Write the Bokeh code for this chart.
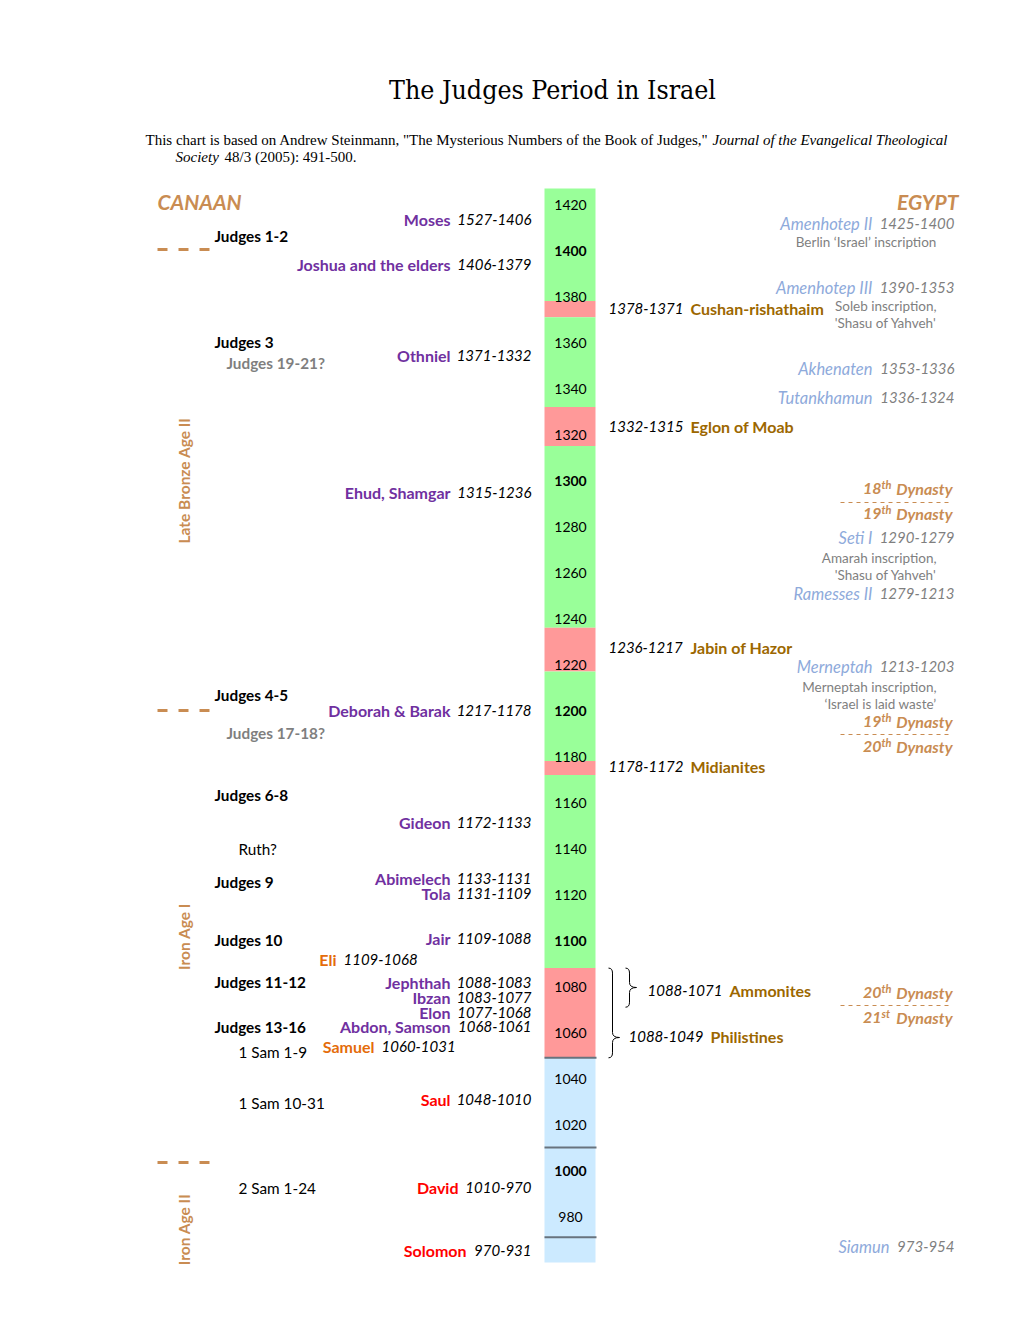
import math
from bokeh.plotting import figure
from bokeh.models import Range1d
from bokeh.embed import file_html
from bokeh.resources import INLINE
from bokeh.core.properties import value

# ---------------- data ----------------
bar_from = [1427, 1378, 1371, 1332, 1315, 1236, 1217, 1178, 1172, 1088, 1049]
bar_to = [1378, 1371, 1332, 1315, 1236, 1217, 1178, 1172, 1088, 1049, 960]
bar_kind = ["judge", "oppression", "judge", "oppression", "judge", "oppression",
            "judge", "oppression", "judge", "oppression", "monarchy"]
tick_years = [1420, 1400, 1380, 1360, 1340, 1320, 1300, 1280, 1260, 1240, 1220,
              1200, 1180, 1160, 1140, 1120, 1100, 1080, 1060, 1040, 1020, 1000, 980]
divider_years = [1049, 1010, 971]

judges = ["Moses", "Joshua and the elders", "Othniel", "Ehud, Shamgar", "Deborah & Barak",
          "Gideon", "Abimelech", "Tola", "Jair", "Jephthah", "Ibzan", "Elon", "Abdon, Samson"]
judge_dates = ["1527-1406", "1406-1379", "1371-1332", "1315-1236", "1217-1178", "1172-1133",
               "1133-1131", "1131-1109", "1109-1088", "1088-1083", "1083-1077", "1077-1068",
               "1068-1061"]
priests = ["Eli", "Samuel"]
priest_dates = ["1109-1068", "1060-1031"]
kings = ["Saul", "David", "Solomon"]
king_dates = ["1048-1010", "1010-970", "970-931"]

books = ["Judges 1-2", "Judges 3", "Judges 4-5", "Judges 6-8", "Judges 9", "Judges 10",
         "Judges 11-12", "Judges 13-16"]
books_maybe = ["Judges 19-21?", "Judges 17-18?"]
books_other = ["Ruth?", "1 Sam 1-9", "1 Sam 10-31", "2 Sam 1-24"]
ages = ["Late Bronze Age II", "Iron Age I", "Iron Age II"]

oppressors = ["Cushan-rishathaim", "Eglon of Moab", "Jabin of Hazor", "Midianites",
              "Ammonites", "Philistines"]
oppressor_dates = ["1378-1371", "1332-1315", "1236-1217", "1178-1172", "1088-1071", "1088-1049"]
brace_from = [1088, 1088]
brace_to = [1071, 1049]

pharaohs = ["Amenhotep II", "Amenhotep III", "Akhenaten", "Tutankhamun", "Seti I",
            "Ramesses II", "Merneptah", "Siamun"]
pharaoh_dates = ["1425-1400", "1390-1353", "1353-1336", "1336-1324", "1290-1279",
                 "1279-1213", "1213-1203", "973-954"]
inscriptions = [["Berlin \u2018Israel\u2019 inscription"],
                ["Soleb inscription,", "'Shasu of Yahveh'"],
                ["Amarah inscription,", "'Shasu of Yahveh'"],
                ["Merneptah inscription,", "\u2018Israel is laid waste\u2019"]]
dynasty_num = ["18", "19", "19", "20", "20", "21"]
dynasty_sup = ["th", "th", "th", "th", "th", "st"]

title = "The Judges Period in Israel"
cite1a = 'This chart is based on Andrew Steinmann, "The Mysterious Numbers of the Book of Judges,"'
cite1b = "Journal of the Evangelical Theological"
cite2a = "Society"
cite2b = "48/3 (2005): 491-500."

# ---------------- colours ----------------
C_GREEN = "#99ff99"
C_RED = "#ff9999"
C_BLUE = "#cceaff"
C_DIV = "#68737e"
C_PURPLE = "#7030a0"
C_GOLD = "#9c6700"
C_PHAR = "#8eaadb"
C_GRAY = "#7f7f7f"
C_TAN = "#c98c52"
C_ORANGE = "#e46c0a"
C_RED_TXT = "#ff0000"
kind_color = {"judge": C_GREEN, "oppression": C_RED, "monarchy": C_BLUE}

# ---------------- figure ----------------
W, H = 1010, 1310
PX_PER_YEAR = 2.3
Y_TOP = 1420 + 204 / PX_PER_YEAR
Y_BOT = Y_TOP - H / PX_PER_YEAR

p = figure(width=W, height=H, output_backend="svg", toolbar_location=None,
           x_range=Range1d(0, W), y_range=Range1d(Y_BOT, Y_TOP),
           x_axis_type=None, y_axis_type=None, min_border=0)
p.outline_line_color = None
p.grid.visible = False
p.background_fill_color = "white"


def yr(py):
    return 1420 - (py - 204) / PX_PER_YEAR


def pxy(year):
    return 204 + (1420 - year) * PX_PER_YEAR


SANS = "Lato"


def txt(x, py, s, size=15, color="black", style="normal", align="left", font=SANS, angle=0.0):
    p.text(x=[x], y=[yr(py)], text=[s], text_font=value(font), text_font_size=f"{size}px",
           text_color=color, text_font_style=style, text_align=align,
           text_baseline="middle", angle=angle)


# ---- time bar ----
p.quad(left=544, right=595, top=bar_from, bottom=bar_to,
       fill_color=[kind_color[k] for k in bar_kind], line_color=None)
p.segment(x0=544, x1=596, y0=divider_years, y1=divider_years, line_color=C_DIV, line_width=2)
for ty in tick_years:
    p.text(x=[570], y=[ty], text=[str(ty)], text_font=value(SANS), text_font_size="14px",
           text_color="black", text_font_style="bold" if ty % 100 == 0 else "normal",
           text_align="center", text_baseline="middle")

# ---- title & citation ----
txt(552, 89, title, size=26.5, font="DejaVu Serif Condensed", align="center")
txt(145, 139, cite1a, size=15, font="Liberation Serif")
txt(712, 139, cite1b, size=15, font="Liberation Serif", style="italic")
txt(175, 156, cite2a, size=15, font="Liberation Serif", style="italic")
txt(224, 156, cite2b, size=15, font="Liberation Serif")

txt(157, 201, "CANAAN", size=21, color=C_TAN, style="bold italic")
txt(958, 201, "EGYPT", size=21, color=C_TAN, style="bold italic", align="right")

# ---- left: judges ----
judge_y = [219, 264, 355, 492, 710, 822, 878, 893, 938, 982, 997, 1012, 1026]
for name, d, y in zip(judges, judge_dates, judge_y):
    txt(450, y, name, size=16, color=C_PURPLE, style="bold", align="right")
    txt(531, y, d, style="italic", align="right")

priest_y = [959, 1046]
priest_right = [336, 374]
for name, d, y, xr in zip(priests, priest_dates, priest_y, priest_right):
    txt(xr, y, name, size=16, color=C_ORANGE, style="bold", align="right")
    txt(xr + 7, y, d, style="italic")

king_y = [1099, 1187, 1250]
king_right = [450, 458, 466]
for name, d, y, xr in zip(kings, king_dates, king_y, king_right):
    txt(xr, y, name, size=16, color=C_RED_TXT, style="bold", align="right")
    txt(531, y, d, style="italic", align="right")

book_y = [235, 341, 694, 794, 881, 939, 981, 1026]
for b, y in zip(books, book_y):
    txt(214, y, b, size=15.3, style="bold")
for b, y in zip(books_maybe, [362, 732]):
    txt(226, y, b, size=15.3, color=C_GRAY, style="bold")
for b, y in zip(books_other, [848, 1051, 1102, 1187]):
    txt(238, y, b, size=15.3)

for a, y in zip(ages, [480, 936, 1229]):
    txt(183, y, a, size=15.5, color=C_TAN, style="bold", align="center", angle=math.pi / 2)
age_div_y = [249, 710, 1162]
p.segment(x0=157, x1=210, y0=[yr(v) for v in age_div_y], y1=[yr(v) for v in age_div_y],
          line_color=C_TAN, line_width=3, line_dash="10 11")

# ---- right: oppressors ----
opp_y = [308, 426, 647, 766, 990, 1036]
opp_x = [608, 608, 608, 608, 647, 628]
for name, d, y, x in zip(oppressors, oppressor_dates, opp_y, opp_x):
    txt(x, y, d, style="italic")
    txt(x + 82, y, name, size=16, color=C_GOLD, style="bold")

# braces
brace_x = [629, 612]
brace_tip = [987, 1037]
for t_year, b_year, xv, tip in zip(brace_from, brace_to, brace_x, brace_tip):
    T, B = pxy(t_year), pxy(b_year)
    qs = [((xv - 4, T), (xv, T), (xv, T + 5)),
          ((xv, tip - 5), (xv, tip), (xv + 7, tip)),
          ((xv + 7, tip), (xv, tip), (xv, tip + 5)),
          ((xv, B - 5), (xv, B), (xv - 4, B))]
    for (s, c, e) in qs:
        p.quadratic(x0=[s[0]], y0=[yr(s[1])], cx=[c[0]], cy=[yr(c[1])], x1=[e[0]],
                    y1=[yr(e[1])], line_color="black", line_width=1)
    p.segment(x0=[xv, xv], x1=[xv, xv], y0=[yr(T + 5), yr(tip + 5)],
              y1=[yr(tip - 5), yr(B - 5)], line_color="black", line_width=1)

# ---- right: Egypt ----
phar_y = [223, 287, 368, 397, 537, 593, 666, 1246]
phar_right = [872, 872, 872, 872, 872, 872, 872, 889]
for name, d, y, xr in zip(pharaohs, pharaoh_dates, phar_y, phar_right):
    txt(xr, y, name, size=16.5, color=C_PHAR, style="italic", align="right")
    txt(954, y, d, color=C_GRAY, style="italic", align="right")

insc_y = [[241], [305, 322], [557, 574], [686, 703]]
for lines, ys in zip(inscriptions, insc_y):
    for s, y in zip(lines, ys):
        txt(936, y, s, size=13.5, color=C_GRAY, align="right")

dyn_y = [488, 513, 721, 746, 992, 1017]
for n, sup, y in zip(dynasty_num, dynasty_sup, dyn_y):
    txt(952, y, "Dynasty", size=16, color=C_TAN, style="bold italic", align="right")
    txt(881, y - 4, sup, size=11, color=C_TAN, style="bold italic")
    txt(881, y, n, size=16, color=C_TAN, style="bold italic", align="right")
dyn_line_y = [502, 734, 1005]
p.segment(x0=840, x1=952, y0=[yr(v) for v in dyn_line_y], y1=[yr(v) for v in dyn_line_y],
          line_color=C_TAN, line_width=1, line_dash="4 4")

open("out.html", "w").write(file_html(p, INLINE))
